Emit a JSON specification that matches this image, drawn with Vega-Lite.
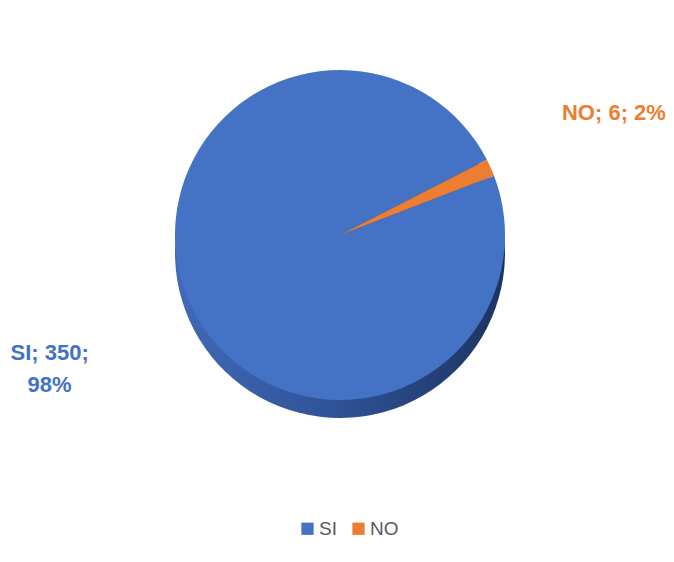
{
  "$schema": "https://vega.github.io/schema/vega-lite/v6.json",
  "width": 668,
  "height": 448,
  "autosize": {"type": "none"},
  "padding": {"left": 6, "top": 11, "right": 0, "bottom": 103},
  "background": "white",
  "config": {"view": {"stroke": null}},
  "data": {
    "values": [
      {"cat": "SI", "value": 350, "label": "SI; 350;\n98%"},
      {"cat": "NO", "value": 6, "label": "NO; 6; 2%"}
    ]
  },
  "encoding": {
    "theta": {"field": "value", "type": "quantitative", "stack": true, "scale": {"range": [1.204, 7.487]}},
    "order": {"field": "value", "type": "quantitative", "sort": "descending"}
  },
  "layer": [
    {
      "mark": {"type": "arc", "outerRadius": 165, "yOffset": 18},
      "encoding": {
        "color": {
          "condition": {"test": "datum.cat === 'SI'", "value": {"gradient": "linear", "x1": 0, "y1": 0, "x2": 1, "y2": 0, "stops": [{"offset": 0, "color": "#4169B8"}, {"offset": 0.5, "color": "#2E5296"}, {"offset": 1, "color": "#1C3461"}]}},
          "value": "#9A4A12"
        }
      }
    },
    {
      "mark": {"type": "arc", "outerRadius": 165},
      "encoding": {
        "color": {
          "field": "cat",
          "type": "nominal",
          "scale": {"domain": ["SI", "NO"], "range": ["#4472C4", "#ED7D31"]},
          "legend": {
            "orient": "none",
            "legendX": 292,
            "legendY": 508,
            "direction": "horizontal",
            "title": null,
            "symbolType": "square",
            "symbolSize": 150,
            "symbolStrokeWidth": 0,
            "labelFontSize": 19,
            "labelColor": "#595959",
            "labelFont": "Liberation Sans",
            "columnPadding": 12,
            "labelOffset": 2,
            "padding": 0
          }
        }
      }
    },
    {
      "mark": {"type": "text", "font": "Liberation Sans", "fontWeight": "bold", "fontSize": 22, "lineBreak": "\n", "lineHeight": 32, "align": "center", "baseline": "middle", "radius": 318, "dy": -12, "color": "#4472C4"},
      "encoding": {
        "text": {"condition": {"test": "datum.cat === 'SI'", "field": "label"}, "value": ""}
      }
    },
    {
      "mark": {"type": "text", "font": "Liberation Sans", "fontWeight": "bold", "fontSize": 22, "align": "center", "baseline": "middle", "radius": 300, "color": "#ED7D31"},
      "encoding": {
        "text": {"condition": {"test": "datum.cat === 'NO'", "field": "label"}, "value": ""}
      }
    }
  ]
}
